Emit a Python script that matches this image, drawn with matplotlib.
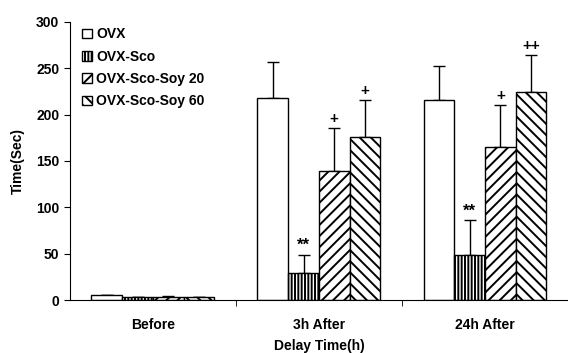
import matplotlib
matplotlib.use("Agg")
import matplotlib.pyplot as plt
import numpy as np

plt.rcParams['font.family'] = ['Liberation Sans', 'DejaVu Sans']
plt.rcParams['font.weight'] = 'bold'
plt.rcParams['hatch.linewidth'] = 1.4

categories = ["Before", "3h After", "24h After"]
series = ["OVX", "OVX-Sco", "OVX-Sco-Soy 20", "OVX-Sco-Soy 60"]
ovx = [5, 218, 216]
ovx_sco = [3, 29, 49]
soy20 = [3, 139, 165]
soy60 = [3, 176, 224]
ovx_err = [0, 39, 36]
ovx_sco_err = [0, 20, 37]
soy20_err = [1, 47, 45]
soy60_err = [0, 40, 40]
marks_sco = ["", "**", "**"]
marks_soy20 = ["", "+", "+"]
marks_soy60 = ["", "+", "++"]

values = [ovx, ovx_sco, soy20, soy60]
errors = [ovx_err, ovx_sco_err, soy20_err, soy60_err]
marks = [None, marks_sco, marks_soy20, marks_soy60]
hatches = [None, '|||||', '///', '\\\\\\']

fig = plt.figure(figsize=(5.68, 3.53), dpi=100)
ax = fig.add_axes([0.123, 0.150, 0.877, 0.788])

x = np.arange(len(categories))
w = 0.185
for i, (vals, errs, h, lab) in enumerate(zip(values, errors, hatches, series)):
    pos = x + (i - 1.5) * w
    ax.bar(pos, vals, width=w, facecolor='white', edgecolor='black',
           linewidth=1.0, hatch=h, label=lab, zorder=2)
    ax.errorbar(pos, vals, yerr=[np.zeros(len(errs)), errs], fmt='none',
                ecolor='black', elinewidth=1.0, capsize=4, capthick=1.0, zorder=1)
    if marks[i] is not None:
        for p, v, e, m in zip(pos, vals, errs, marks[i]):
            if m:
                ax.text(p, v + e + 2, m, ha='center', va='bottom',
                        fontsize=12 if '*' in m else 11, fontweight='bold')

ax.set_xlim(-0.5, 2.5)
ax.set_ylim(0, 300)
ax.set_yticks(np.arange(0, 301, 50))
ax.set_xticks(x)
ax.set_xticklabels(categories, fontsize=10, fontweight='bold')
ax.tick_params(axis='x', length=0, pad=13)
ax.set_xticks([0.5, 1.5], minor=True)
ax.tick_params(axis='x', which='minor', length=4, direction='out')
ax.tick_params(axis='y', length=4, direction='out', labelsize=10)
for lbl in ax.get_yticklabels():
    lbl.set_fontweight('bold')
ax.spines['top'].set_visible(False)
ax.spines['right'].set_visible(False)
ax.set_ylabel("Time(Sec)", fontsize=10, fontweight='bold', labelpad=8)
ax.set_xlabel("Delay Time(h)", fontsize=10, fontweight='bold', labelpad=5)

leg = ax.legend(loc='upper left', bbox_to_anchor=(0.0, 1.025), frameon=False,
                handlelength=0.7, handleheight=0.7, handletextpad=0.3,
                labelspacing=0.6, prop={'weight': 'bold', 'size': 10})

fig.savefig("out.png", dpi=100)
